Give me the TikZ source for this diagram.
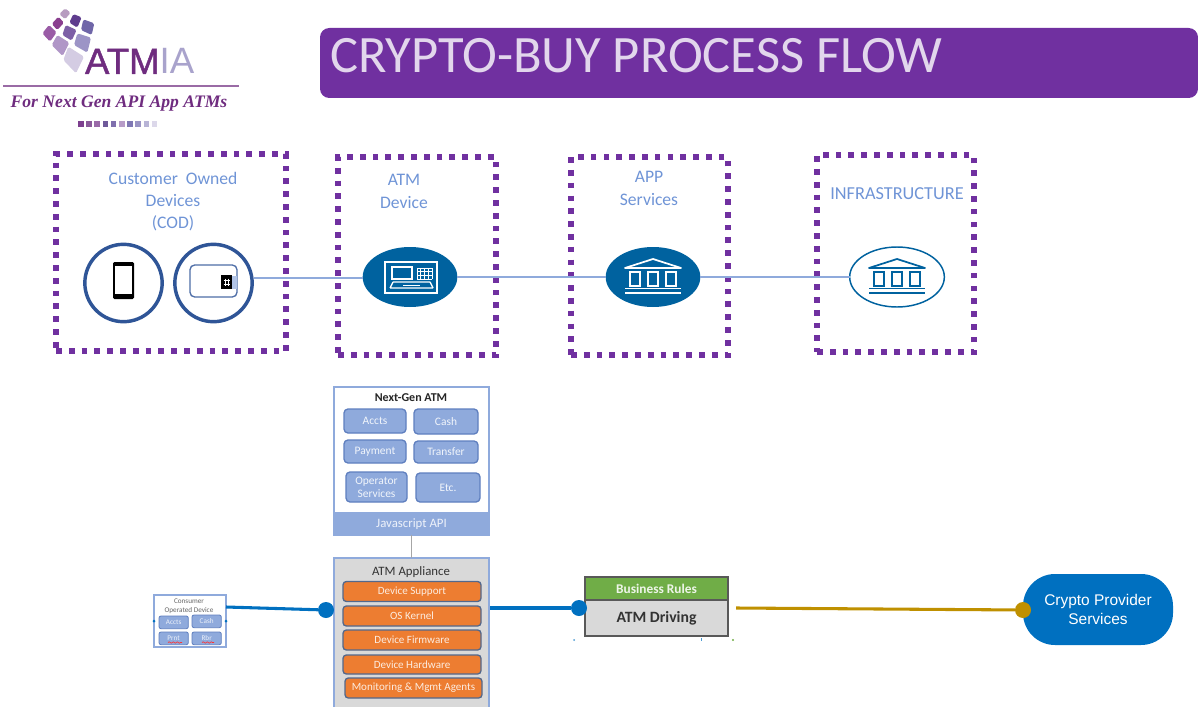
\documentclass[tikz,border=0pt]{standalone}
\usepackage{fontspec}
\setmainfont{Carlito}
\newfontfamily\arialf{Liberation Sans}
\newfontfamily\logof[FakeBold=1.2]{Liberation Sans}
\newfontfamily\timesf{Liberation Serif}
\usetikzlibrary{shapes.geometric,calc,decorations.pathmorphing}
\definecolor{purp}{HTML}{7030A0}
\definecolor{lab}{HTML}{6F94D6}
\definecolor{ringblue}{HTML}{2F5597}
\definecolor{deepblue}{HTML}{00629F}
\definecolor{wire}{HTML}{8FAADC}
\definecolor{tile}{HTML}{8FAADC}
\definecolor{tileedge}{HTML}{5F7FBF}
\definecolor{orng}{HTML}{ED7D31}
\definecolor{grayfill}{HTML}{D9D9D9}
\definecolor{linkblue}{HTML}{0070C0}
\definecolor{gold}{HTML}{BF9000}
\definecolor{grn}{HTML}{70AD47}
\definecolor{atmtxt}{HTML}{6F2C7F}
\definecolor{iatxt}{HTML}{A9A3CC}
\newcommand{\fs}[1]{\fontsize{#1}{1.2\dimexpr#1pt\relax}\selectfont}
\newcommand{\logotile}[2]{\definecolor{tmpc}{HTML}{#1}\fill[tmpc,rounded corners=1.2pt,x=0.25pt,y=-0.25pt] #2 -- cycle;}
\tikzset{
  x=0.75pt,y=-0.75pt,
  every node/.style={outer sep=0pt},
  dotbox/.style={draw=purp,line width=4.2pt,dash pattern=on 4.3pt off 5.3pt},
  lab/.style={text=lab,font=\fs{13.2},align=center,inner sep=0pt},
  ring/.style={draw=ringblue,line width=2.6pt,circle,fill=white,minimum size=58pt,inner sep=0pt},
  oval/.style={ellipse,inner sep=0pt,minimum width=71pt,minimum height=45pt},
  wireln/.style={draw=wire,line width=0.9pt},
  tilebox/.style={draw=tileedge,line width=1pt,fill=tile,rounded corners=3pt,text=white!88!tile,font=\fs{8.6},align=center,inner sep=0pt,anchor=north west},
  orbox/.style={draw=ringblue!55!gray,line width=1pt,fill=orng,rounded corners=2.5pt,text=white!85!orng,font=\fs{8.3},align=center,inner sep=0pt,anchor=north west,minimum height=15pt},
  mini/.style={draw=tileedge,line width=.6pt,fill=tile,rounded corners=1.5pt,text=white!85!tile,font=\fs{5.4},inner sep=0pt,anchor=north west,minimum width=22pt,minimum height=9.5pt},
  bluelink/.style={draw=linkblue,line width=2.3pt},
  dotn/.style={circle,fill=#1,inner sep=0pt,minimum size=12pt},
}
\newcommand{\bankicon}[3]{%
  \begin{scope}[shift={(#1,#2)},draw=#3,line width=1.3pt]
    \draw[line join=round] (-28,-9) -- (0,-18) -- (28,-9) -- cycle;
    \draw (-23,-5) rectangle (-13,9);
    \draw (-5,-5) rectangle (5,9);
    \draw (13,-5) rectangle (23,9);
    \draw (-28,11.5) -- (28,11.5);
    \draw[line width=1.6pt] (-28,16) -- (28,16);
  \end{scope}}
\begin{document}
\begin{tikzpicture}
\useasboundingbox (0,0) rectangle (1198,706);
\clip (0,0) rectangle (1198,706);
% logo
\logotile{B79CC0}{(195,25) -- (212,38) -- (195,58) -- (178,42)}
\logotile{8A3F8F}{(175,50) -- (192,68) -- (172,90) -- (155,72)}
\logotile{9A5CA6}{(147,75) -- (170,97) -- (150,125) -- (127,100)}
\logotile{5F3D8E}{(220,42) -- (245,52) -- (232,83) -- (208,68)}
\logotile{7D5FA6}{(197,75) -- (230,90) -- (215,122) -- (187,105)}
\logotile{B096C7}{(172,105) -- (208,128) -- (188,168) -- (155,135)}
\logotile{6F66A8}{(250,58) -- (283,70) -- (275,105) -- (243,90)}
\logotile{9C94C6}{(232,100) -- (273,113) -- (262,158) -- (222,135)}
\logotile{D4CCE3}{(205,140) -- (252,170) -- (228,220) -- (190,180)}
\node[anchor=base west,inner sep=0pt,font=\fs{27.5}] (logotext) at (85,74) {\textcolor{atmtxt}{\logof ATM}\textcolor{iatxt}{\arialf IA}};
\coordinate (rulel) at (3,86);
\coordinate (ruler) at (239,86);
\draw[atmtxt!70,line width=1.1pt] (rulel) -- (ruler);
\node[anchor=center,inner sep=0pt,text=atmtxt,font=\timesf\bfseries\itshape\fs{13.2}] (tag) at (119,103.5) {For Next Gen API App ATMs};
\foreach \i/\col in {0/7D3F8F,1/8A5A9A,2/9A6AA8,3/6F5A9A,4/8070AE,5/B79CC8,6/7F78B4,7/9A94C4,8/B8B4D6,9/DCD8EA}{
  \definecolor{tmpc}{HTML}{\col}
  \fill[tmpc] ({78+\i*8.2},121) rectangle ({83.5+\i*8.2},127);
}
% title
\node[draw=none,fill=purp,rounded corners=7pt,minimum width=658.5pt,minimum height=52.5pt,anchor=north west,inner sep=0pt] (titlebar) at (320,28) {};
\node[anchor=west,inner sep=0pt,text=white!80!purp,font=\fs{39.4}] (titletext) at (330,56) {CRYPTO-BUY PROCESS FLOW};
% dotted boxes
\node[dotbox,minimum width=172.5pt,minimum height=147.7pt,anchor=north west,inner sep=0pt] (codbox) at (56,154) {};
\node[dotbox,minimum width=118.5pt,minimum height=148.5pt,anchor=north west,inner sep=0pt] (atmbox) at (338,157) {};
\node[dotbox,minimum width=117.7pt,minimum height=148.5pt,anchor=north west,inner sep=0pt] (appbox) at (571,157) {};
\node[dotbox,minimum width=117.7pt,minimum height=147.7pt,anchor=north west,inner sep=0pt] (infbox) at (817,155) {};
% labels
\node[lab] (l1) at (173,178) {Customer\ \ Owned};
\node[lab] (l2) at (173,201) {Devices};
\node[lab] (l3) at (173,223) {(COD)};
\node[lab] (l4) at (404,180) {ATM};
\node[lab] (l5) at (404,203) {Device};
\node[lab] (l6) at (649,177) {APP};
\node[lab] (l7) at (649,200) {Services};
\node[lab,font=\fs{13.7}] (l8) at (897,194) {INFRASTRUCTURE};
% top row nodes
\node[ring] (phone) at (123.5,283) {};
\node[ring] (card) at (213.5,283) {};
\node[oval,fill=deepblue] (atm) at (410,277) {};
\node[oval,fill=deepblue] (app) at (653,277) {};
\node[oval,fill=white,draw=deepblue,line width=1.1pt] (inf) at (897,277) {};
\coordinate (cardr) at (254,278);
\draw[wireln] (cardr) -- (atm.west |- cardr);
\draw[wireln] (atm) -- (app);
\draw[wireln] (app) -- (inf);
% phone icon
\fill[black,rounded corners=1pt] (113,262) rectangle (134,299);
\fill[white] (115,266) rectangle (132,294);
% card icon
\draw[ringblue!85,line width=1pt,rounded corners=3.5pt,fill=white] (190,265) rectangle (237,297);
\fill[tile!70] (232,276) rectangle (236.5,289);
\fill[black] (221,275) rectangle (232,289);
\draw[white,line width=.7pt] (225,278.5) -- (225,285.5) (228.5,278.5) -- (228.5,285.5) (223.5,280.5) -- (230,280.5) (223.5,284) -- (230,284);
% ATM icon
\begin{scope}[draw=white,line width=1pt]
  \draw (385,262) rectangle (437,293);
  \draw (392,267) rectangle (412,279);
  \foreach \kx in {417,420.75,424.5,428.25,432} {\draw[line width=.6pt] (\kx,268) -- (\kx,279);}
  \foreach \ky in {268,271.7,275.4,279} {\draw[line width=.6pt] (417,\ky) -- (432,\ky);}
  \draw (393,282) -- (430,282) (390,288) -- (433,288) (393,282) -- (390,288) (430,282) -- (433,288);
  \draw[line width=.7pt] (403,285) -- (420,285);
\end{scope}
\bankicon{653}{277}{white}
\bankicon{897}{277}{deepblue}
% Next-gen ATM
\node[draw=tile,line width=1.2pt,fill=white,anchor=north west,minimum width=116.25pt,minimum height=111pt,inner sep=0pt] (nextgen) at (334,387) {};
\node[inner sep=0pt,font=\bfseries\fs{9},text=black!85] (nglabel) at (411,398) {Next-Gen ATM};
\node[tilebox,minimum width=46.5pt,minimum height=18pt] (accts) at (344,409) {Accts};
\node[tilebox,minimum width=48pt,minimum height=18.75pt] (cash) at (414,409) {Cash};
\node[tilebox,minimum width=46.5pt,minimum height=17.25pt] (pay) at (344,440) {Payment};
\node[tilebox,minimum width=48pt,minimum height=16.5pt] (trans) at (414,441) {Transfer};
\node[tilebox,minimum width=45.75pt,minimum height=22.5pt,font=\fontsize{8.6}{9.8}\selectfont] (oper) at (346,472) {Operator\\Services};
\node[tilebox,minimum width=48pt,minimum height=21.75pt] (etc) at (416,473) {Etc.};
\node[draw=tile,line width=1pt,fill=tile,anchor=north west,minimum width=116.25pt,minimum height=16.5pt,inner sep=0pt,text=white!85!tile,font=\fs{9.6}] (jsapi) at (334,513) {Javascript API};
% ATM appliance
\node[draw=tile,line width=1.2pt,fill=grayfill,anchor=north west,minimum width=116.25pt,minimum height=120pt,inner sep=0pt] (appl) at (334,558) {};
\draw[draw=gray!70,line width=.9pt] (jsapi.south) -- (appl.north -| jsapi.south);
\node[inner sep=0pt,font=\fs{9.6},text=black!80] (appllabel) at (411,572) {ATM Appliance};
\node[orbox,minimum width=103.5pt] (o1) at (343,581.5) {Device Support};
\node[orbox,minimum width=103.5pt] (o2) at (343,606) {OS Kernel};
\node[orbox,minimum width=103.5pt] (o3) at (343,630) {Device Firmware};
\node[orbox,minimum width=103.5pt,minimum height=14.25pt] (o4) at (343,655) {Device Hardware};
\node[orbox,minimum width=102.75pt] (o5) at (345,678) {Monitoring \& Mgmt Agents};
% consumer device
\node[draw=tile,line width=.8pt,fill=white,anchor=north west,minimum width=54pt,minimum height=39pt,inner sep=0pt] (cons) at (154,595) {};
\node[inner sep=0pt,font=\fs{5.4},text=black!60,align=center] (conslabel) at (189,606.5) {Consumer\\Operated Device};
\node[mini] (m1) at (159,616) {Accts};
\node[mini] (m2) at (192,615) {Cash};
\node[mini] (m3) at (159,632) {Prnt};
\node[mini] (m4) at (192,632) {Rbr};
\draw[red!80,line width=.5pt,decorate,decoration={snake,amplitude=.5pt,segment length=3pt}] (168,642.5) -- (182,642.5);
\draw[red!80,line width=.5pt,decorate,decoration={snake,amplitude=.5pt,segment length=3pt}] (202,642.5) -- (214,642.5);
\fill[linkblue] (cons.west) circle (1.5) (cons.east) circle (1.5);
% driving
\node[draw=black!65,line width=1.6pt,fill=grn,anchor=north west,minimum width=107.25pt,minimum height=17.25pt,inner sep=0pt,text=white!88!grn,font=\bfseries\fs{10}] (biz) at (585,577) {Business Rules};
\node[draw=black!65,line width=1.6pt,fill=grayfill,anchor=north west,minimum width=107.25pt,minimum height=27pt,inner sep=0pt,text=black!80,font=\bfseries\fs{11.8}] (drv) at (585,600) {ATM Driving};
\fill[linkblue!70] (574,640) circle (1);
\fill[linkblue!70] (701,638) rectangle (702,641);
\fill[grn] (733,640) circle (1.2);
% crypto
\node[fill=linkblue,rounded corners=24pt,anchor=north west,minimum width=112.5pt,minimum height=53.25pt,inner sep=0pt,text=white,align=center,font=\arialf\fs{11.6}] (crypto) at (1023,574) {Crypto Provider\\Services};
% connectors and dots
\node[dotn=linkblue] (d1) at (326,610) {};
\node[dotn=linkblue] (d2) at (579,608) {};
\node[dotn=gold] (d3) at (1023,610) {};
\coordinate (consr) at (226,607);
\coordinate (applr) at (490,608);
\coordinate (drvr) at (736,608);
\draw[bluelink] (consr) -- (d1);
\draw[bluelink] (applr) -- (d2);
\draw[draw=gold,line width=2.3pt] (drvr) -- (d3);
\end{tikzpicture}
\end{document}
